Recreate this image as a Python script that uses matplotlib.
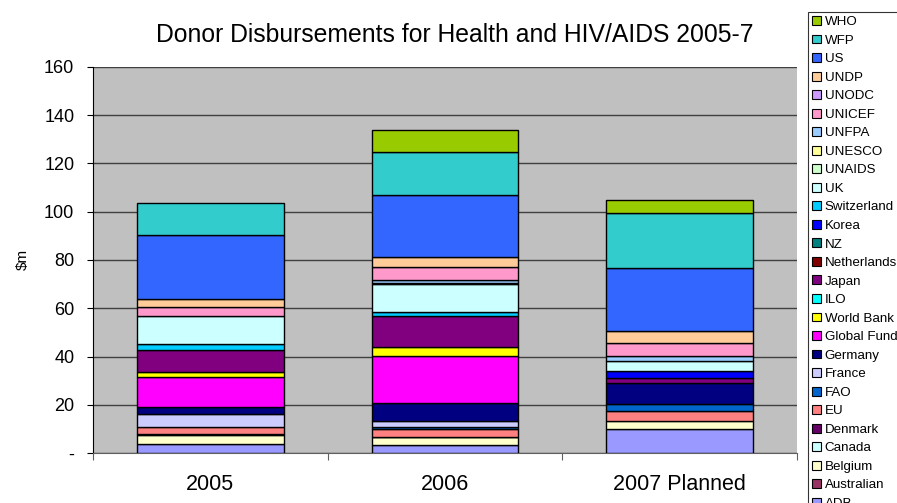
import matplotlib
matplotlib.use("Agg")
import matplotlib.pyplot as plt
from matplotlib.patches import Patch
import numpy as np

plt.rcParams['font.family'] = ['Liberation Sans', 'DejaVu Sans']

years = ["2005", "2006", "2007 Planned"]

# Disbursements ($m) per donor, stacked bottom-up in this order
donors = ["ADB", "Australian", "Belgium", "Canada", "Denmark", "EU", "FAO",
          "France", "Germany", "Global Fund", "World Bank", "ILO", "Japan",
          "Netherlands", "NZ", "Korea", "Switzerland", "UK", "UNAIDS",
          "UNESCO", "UNFPA", "UNICEF", "UNODC", "UNDP", "US", "WFP", "WHO"]

adb = [3.7, 3.3, 9.8]
australian = [0, 0, 0]
belgium = [3.8, 3.2, 3.6]
canada = [0, 0, 0]
denmark = [0.3, 0.3, 0]
eu = [3.0, 3.0, 4.2]
fao = [0, 0.9, 2.9]
france = [5.2, 2.6, 0]
germany = [3.2, 7.3, 8.5]
global_fund = [12.2, 19.4, 0]
world_bank = [2.3, 4.1, 0]
ilo = [0, 0, 0]
japan = [9.0, 12.5, 2.2]
netherlands = [0, 0, 0]
nz = [0, 0, 0]
korea = [0, 0, 2.8]
switzerland = [2.5, 2.0, 0]
uk = [11.4, 11.4, 4.3]
unaids = [0, 0.5, 0]
unesco = [0, 0, 0]
unfpa = [0, 1.3, 1.8]
unicef = [4.1, 5.5, 5.5]
unodc = [0, 0, 0]
undp = [3.2, 4.0, 4.9]
us = [26.3, 25.6, 26.1]
wfp = [13.4, 17.9, 22.7]
who = [0, 9.2, 5.7]

series = [adb, australian, belgium, canada, denmark, eu, fao, france, germany,
          global_fund, world_bank, ilo, japan, netherlands, nz, korea,
          switzerland, uk, unaids, unesco, unfpa, unicef, unodc, undp, us,
          wfp, who]

colors = ["#9999FF", "#993366", "#FFFFCC", "#CCFFFF", "#660066", "#FF8080",
          "#0066CC", "#CCCCFF", "#000080", "#FF00FF", "#FFFF00", "#00FFFF",
          "#800080", "#800000", "#008080", "#0000FF", "#00CCFF", "#CCFFFF",
          "#CCFFCC", "#FFFF99", "#99CCFF", "#FF99CC", "#CC99FF", "#FFCC99",
          "#3366FF", "#33CCCC", "#99CC00"]

W, H = 897, 503
fig = plt.figure(figsize=(W / 100, H / 100), dpi=100)
fig.patch.set_facecolor("white")

left, right, bottom, top = 93, 797, 453, 67
ax = fig.add_axes([left / W, 1 - bottom / H, (right - left) / W, (bottom - top) / H])
ax.set_facecolor("#C0C0C0")

x = np.arange(len(years)) + 0.5
base = np.zeros(len(years))
for vals, col in zip(series, colors):
    v = np.array(vals, dtype=float)
    bars = ax.bar(x, v, width=0.625, bottom=base, color=col,
                  edgecolor="black", linewidth=1.0, zorder=3)
    for b, h in zip(bars, v):
        if h == 0:
            b.set_visible(False)
    base += v

ax.set_xlim(0, 3)
ax.set_ylim(0, 160)
ax.set_yticks(np.arange(0, 161, 20))
ax.set_yticklabels(["-"] + [str(t) for t in range(20, 161, 20)])
ax.yaxis.grid(True, color="#404040", linewidth=1.0, zorder=1)
ax.set_axisbelow(True)

ax.set_xticks([0, 1, 2, 3])
ax.set_xticklabels([])
ax.set_xticks(x, minor=True)
ax.set_xticklabels(years, minor=True)
ax.tick_params(axis="x", which="major", length=5, direction="out", color="#606060")
ax.tick_params(axis="x", which="minor", length=0, pad=15, labelsize=15.5)
ax.tick_params(axis="y", length=4.5, direction="out", labelsize=13, pad=9)

for s in ["top", "right"]:
    ax.spines[s].set_visible(False)
ax.spines["left"].set_color("black")
ax.spines["bottom"].set_color("#606060")

fig.text(23 / W, 1 - 259 / H, "$m", rotation=90, ha="center", va="center",
         fontsize=11)

fig.text(455 / W, 1 - 35 / H, "Donor Disbursements for Health and HIV/AIDS 2005-7",
         ha="center", va="center", fontsize=17.8)

handles = [Patch(facecolor=c, edgecolor="black", linewidth=0.8, label=d)
           for d, c in zip(donors, colors)][::-1]
leg = fig.legend(handles=handles, loc="upper left",
                 bbox_to_anchor=(808 / W, 1 - 12 / H), fontsize=9.6,
                 frameon=True, fancybox=False, edgecolor="black",
                 handlelength=0.65, handleheight=0.65, handletextpad=0.3,
                 labelspacing=0.48, borderpad=0.3, borderaxespad=0)
leg.get_frame().set_linewidth(0.8)

fig.savefig("out.png", dpi=100)
